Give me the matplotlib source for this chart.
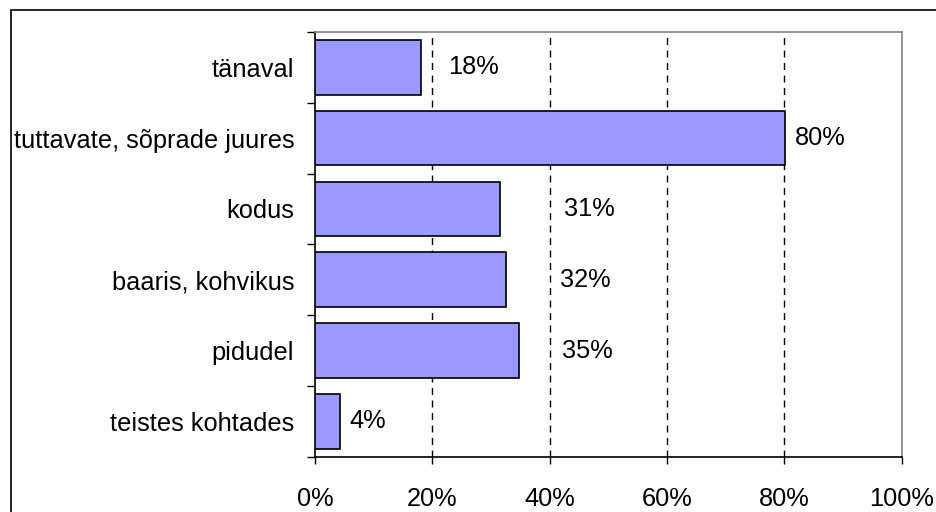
import matplotlib
matplotlib.use("Agg")
import matplotlib.pyplot as plt
import matplotlib.patches as patches

plt.rcParams['font.family'] = ['Liberation Sans', 'DejaVu Sans']

# data
categories = ["tänaval", "tuttavate, sõprade juures", "kodus",
              "baaris, kohvikus", "pidudel", "teistes kohtades"]
values = [18.0, 80.2, 31.5, 32.5, 34.8, 4.3]
value_labels = ["18%", "80%", "31%", "32%", "35%", "4%"]
x_ticks = [0, 20, 40, 60, 80, 100]
x_tick_labels = ["0%", "20%", "40%", "60%", "80%", "100%"]

# where the labels sit, relative to bar end (Excel put them oddly)
label_shift = [4.7, 1.7, 10.9, 9.2, 7.3, 1.6]

fs = 18.3

fig = plt.figure(figsize=(9.37, 5.12), dpi=100)
ax = fig.add_axes([315 / 937, 1 - 456.7 / 512, (901.5 - 315) / 937, (456.7 - 32) / 512])

pos = list(range(len(categories)))
ax.barh(pos, values, height=0.77, color="#9999FF", edgecolor="black",
        linewidth=1.2, zorder=3)

for p, v, lab, sh in zip(pos, values, value_labels, label_shift):
    ax.text(v + sh, p, lab, ha="left", va="center", fontsize=fs, zorder=4)

ax.set_xlim(0, 100)
ax.set_ylim(len(categories) - 0.5, -0.5)

ax.set_xticks(x_ticks)
ax.set_xticklabels(x_tick_labels, fontsize=fs)
ax.set_yticks(pos)
ax.set_yticklabels(categories, fontsize=fs)
ax.set_yticks([p - 0.5 for p in pos] + [len(pos) - 0.5], minor=True)

ax.tick_params(axis="y", which="major", length=0, pad=15)
ax.tick_params(axis="y", which="minor", length=6, width=1, color="black")
ax.tick_params(axis="x", which="major", length=5, width=1, pad=17, color="black")

for xv in x_ticks[1:-1]:
    ax.axvline(xv, color="black", linewidth=1, linestyle=(0, (5, 4)), zorder=1)

ax.spines["left"].set_color("black")
ax.spines["bottom"].set_color("black")
ax.spines["top"].set_color("#808080")
ax.spines["right"].set_color("#808080")
for s in ax.spines.values():
    s.set_linewidth(1.2)

# outer chart frame
fig.patches.append(patches.Rectangle((11 / 937, -0.1), 1.2, 1 - 10 / 512 + 0.1,
                                     transform=fig.transFigure, fill=False,
                                     edgecolor="black", linewidth=1.2))

fig.savefig("out.png", dpi=100)
